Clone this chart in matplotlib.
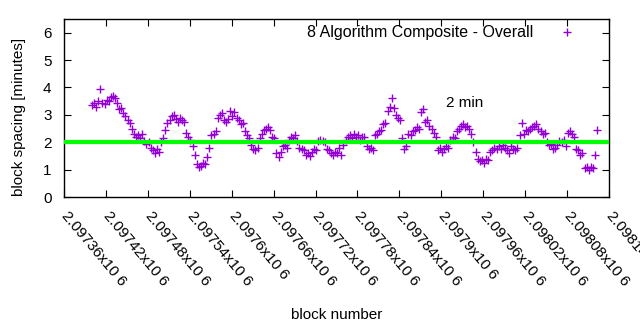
import numpy as np
import matplotlib.pyplot as plt

# block spacing in minutes, one value every BLOCK_STEP blocks
FIRST_BLOCK = 2097400
BLOCK_STEP = 3
spacing = [
    3.35, 3.45, 3.3, 3.5, 3.95, 3.45, 3.4, 3.55, 3.5, 3.65,
    3.7, 3.6, 3.45, 3.2, 3.25, 3.05, 2.95, 2.8, 2.7, 2.5,
    2.3, 2.2, 2.25, 2.15, 2.3, 2.05, 1.95, 2.0, 1.8, 1.7,
    1.6, 1.75, 1.65, 2.0, 2.15, 2.45, 2.7, 2.8, 2.95, 3.0,
    2.85, 2.75, 2.9, 2.8, 2.75, 2.35, 2.2, 2.1, 1.85, 1.55,
    1.2, 1.1, 1.15, 1.25, 1.2, 1.45, 1.8, 2.25, 2.3, 2.4,
    2.9, 3.0, 3.05, 2.8, 2.75, 2.85, 3.15, 2.95, 3.1, 2.9,
    2.8, 2.65, 2.7, 2.4, 2.25, 2.15, 1.9, 1.75, 1.7, 1.8,
    2.15, 2.3, 2.45, 2.5, 2.55, 2.45, 2.2, 2.15, 1.6, 1.45,
    1.65, 1.85, 1.9, 1.8, 2.1, 2.2, 2.15, 2.25, 2.05, 1.8,
    1.75, 1.7, 1.55, 1.6, 1.5, 1.65, 1.75, 1.7, 2.05, 2.1,
    2.05, 2.0, 1.75, 1.7, 1.6, 1.55, 1.65, 1.6, 1.8, 1.55,
    1.9, 2.1, 2.2, 2.25, 2.15, 2.3, 2.2, 2.25, 2.1, 2.2,
    2.2, 1.85, 1.75, 1.8, 1.7, 2.25, 2.3, 2.4, 2.45, 2.65,
    2.7, 3.15, 3.3, 3.6, 3.25, 3.0, 2.9, 2.8, 2.15, 1.75,
    1.85, 2.3, 2.25, 2.4, 2.45, 2.55, 2.5, 3.1, 3.2, 2.75,
    2.8, 2.6, 2.5, 2.35, 2.2, 1.7, 1.8, 1.65, 1.75, 1.85,
    1.8, 2.1, 2.2, 2.15, 2.4, 2.5, 2.6, 2.65, 2.55, 2.6,
    2.5, 2.3, 2.0, 1.65, 1.4, 1.3, 1.35, 1.25, 1.4, 1.35,
    1.65, 1.7, 1.8, 1.75, 1.85, 1.75, 1.9, 1.8, 1.7, 1.6,
    1.85, 1.75, 1.7, 1.8, 2.25, 2.7, 2.3, 2.45, 2.4, 2.5,
    2.55, 2.6, 2.65, 2.5, 2.4, 2.3, 2.35, 2.0, 1.9, 1.95,
    1.75, 1.8, 1.9, 2.05, 2.0, 2.1, 1.85, 2.35, 2.4, 2.3,
    2.2, 1.75, 1.7, 1.55, 1.6, 1.05, 1.1, 1.0, 1.1, 1.05,
    1.55, 2.45,
]
blocks = FIRST_BLOCK + BLOCK_STEP * np.arange(len(spacing))

TARGET = 2.0  # minutes

xtick_blocks = list(range(2097360, 2098141, 60))
xtick_labels = ['2.09736x10 6', '2.09742x10 6', '2.09748x10 6', '2.09754x10 6',
                '2.0976x10 6', '2.09766x10 6', '2.09772x10 6', '2.09778x10 6',
                '2.09784x10 6', '2.0979x10 6', '2.09796x10 6', '2.09802x10 6',
                '2.09808x10 6', '2.09814x10 6']
ytick_values = [0, 1, 2, 3, 4, 5, 6]

PURPLE = '#9400d3'
GREEN = '#00ff00'

plt.rcParams['font.family'] = ['Liberation Sans', 'DejaVu Sans']

fig = plt.figure(figsize=(6.4, 3.3), dpi=100)
ax = fig.add_axes([0.1, 0.403, 0.8516, 0.5394])

ax.plot(blocks, spacing, linestyle='none', marker='+', markersize=5.5,
        markeredgewidth=1.0, color=PURPLE, zorder=2)
ax.axhline(TARGET, color=GREEN, linewidth=3, zorder=3)
ax.text(2097907, 3.45, '2 min', fontsize=11, va='center', ha='left')

# key, gnuplot style: text then sample
ax.text(0.861, 0.927, '8 Algorithm Composite - Overall', transform=ax.transAxes,
        fontsize=11.5, ha='right', va='center')
ax.plot([0.923], [0.927], transform=ax.transAxes, marker='+', markersize=5.5,
        markeredgewidth=1.0, color=PURPLE, linestyle='none', clip_on=False)

ax.set_xlim(2097360, 2098140)
ax.set_ylim(0, 6.5)
ax.set_xticks(xtick_blocks)
ax.set_xticklabels(xtick_labels, rotation=-50, ha='left', va='center',
                   rotation_mode='anchor', fontsize=11)
ax.set_yticks(ytick_values)
ax.tick_params(direction='in', length=5, top=True, right=True, labelsize=11)
ax.tick_params(axis='x', pad=12)
ax.tick_params(axis='y', pad=9)
for s in ax.spines.values():
    s.set_linewidth(1.0)

ax.set_ylabel('block spacing [minutes]', fontsize=11)
ax.yaxis.set_label_coords(-0.07, 0.45)
ax.set_xlabel('block number', fontsize=11)
ax.xaxis.set_label_coords(0.5, -0.625)

fig.savefig('out.png', dpi=100)
